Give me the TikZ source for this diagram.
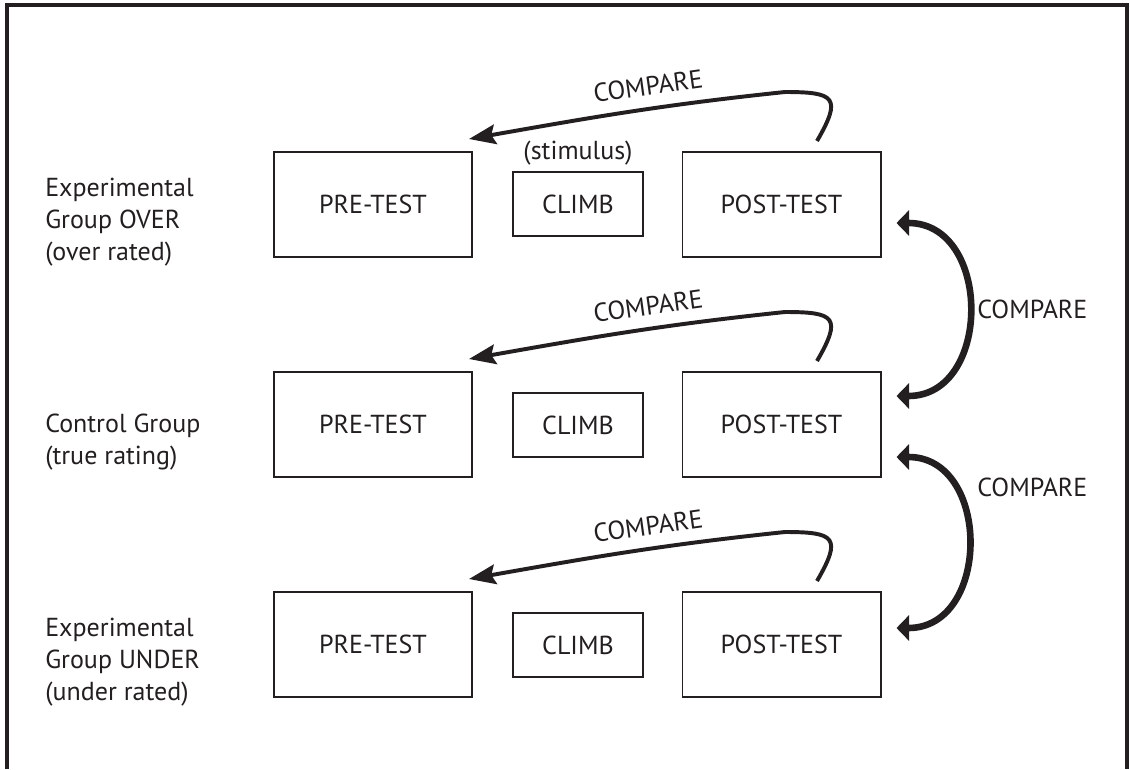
\documentclass[tikz,border=0pt]{standalone}
\usepackage{fontspec}
\setmainfont{PT Sans}
\usetikzlibrary{arrows.meta}
\definecolor{ink}{RGB}{35,31,32}

\begin{document}
\begin{tikzpicture}[x=0.025cm, y=0.025cm, ink, font=\fontsize{18.5}{23}\selectfont,
        box/.style = {draw, line width=1.4pt, minimum width=4.95cm, minimum height=2.625cm},
        climbbox/.style = {draw, line width=1.4pt, minimum width=3.25cm, minimum height=1.6cm},
        group/.style = {anchor=west, align=left, inner sep=0pt},
        cmparrow/.style = {line width=2.8pt, -{Stealth[length=19pt,width=14pt,inset=3pt]}},
        linkarrow/.style = {line width=4.7pt, {Triangle[length=9pt,width=18pt]}-{Triangle[length=9pt,width=18pt]}}]

        \useasboundingbox (0,0) rectangle (1130,-769);
        \draw[line width=2.2pt] (7,-769) -- (7,-5) -- (1127,-5) -- (1127,-769);

        % row labels
        \node[group] (g1) at (45,-222) {Experimental\\Group OVER\\(over rated)};
        \node[group] (g2) at (45,-442) {Control Group\\(true rating)};
        \node[group] (g3) at (45,-662) {Experimental\\Group UNDER\\(under rated)};

        % boxes
        \node[box] (pre1) at (373,-204.5) {PRE-TEST};
        \node[climbbox] (climb1) at (578,-204) {CLIMB};
        \node[box] (post1) at (781.5,-204.5) {POST-TEST};
        \node (stim) at (578,-153) {(stimulus)};

        \node[box] (pre2) at (373,-424.5) {PRE-TEST};
        \node[climbbox] (climb2) at (578,-425) {CLIMB};
        \node[box] (post2) at (781.5,-424.5) {POST-TEST};

        \node[box] (pre3) at (373,-644.5) {PRE-TEST};
        \node[climbbox] (climb3) at (578,-645) {CLIMB};
        \node[box] (post3) at (781.5,-644.5) {POST-TEST};

        % post-test back to pre-test
        \draw[cmparrow] ([shift={(35.5,10)}]post1.north) to[out=60,in=0,looseness=2.2] ([shift={(3.5,59)}]post1.north)
            to[out=186,in=10] ([shift={(-4,12)}]pre1.north east);
        \draw[cmparrow] ([shift={(35.5,10)}]post2.north) to[out=60,in=0,looseness=2.2] ([shift={(3.5,59)}]post2.north)
            to[out=186,in=10] ([shift={(-4,12)}]pre2.north east);
        \draw[cmparrow] ([shift={(35.5,10)}]post3.north) to[out=60,in=0,looseness=2.2] ([shift={(3.5,59)}]post3.north)
            to[out=186,in=10] ([shift={(-4,12)}]pre3.north east);

        \node[rotate=8] (c1) at (648,-86) {COMPARE};
        \node[rotate=8] (c2) at (648,-306) {COMPARE};
        \node[rotate=8] (c3) at (648,-526) {COMPARE};

        % between groups
        \draw[linkarrow] ([shift={(15,-18.5)}]post1.east) to[out=0,in=0,looseness=1.42] ([shift={(15,28.5)}]post2.east);
        \draw[linkarrow] ([shift={(15,-32.5)}]post2.east) to[out=0,in=0,looseness=1.42] ([shift={(15,16.5)}]post3.east);

        \node[anchor=west, inner sep=0pt] (c12) at (977,-309) {COMPARE};
        \node[anchor=west, inner sep=0pt] (c23) at (977,-487) {COMPARE};

    \end{tikzpicture}
\end{document}
